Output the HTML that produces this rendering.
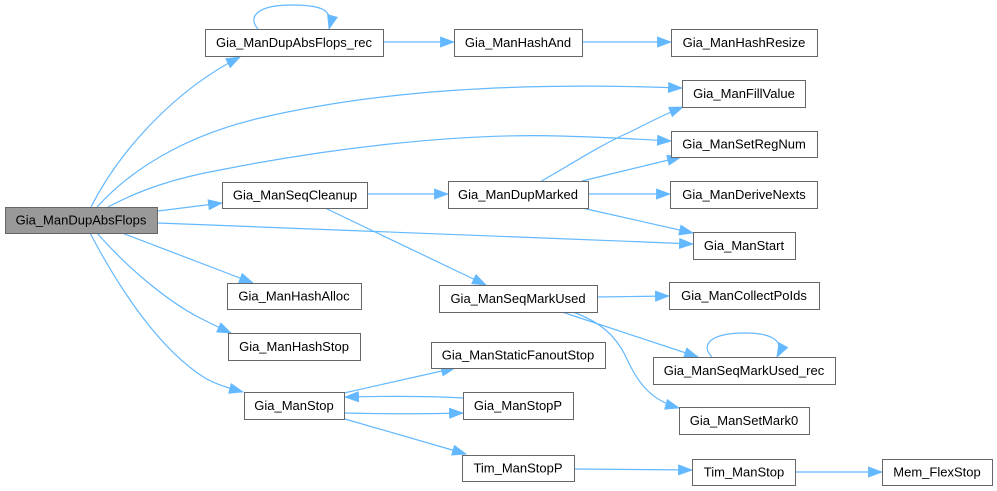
<!DOCTYPE html>
<html><head><meta charset="utf-8"><style>
html,body{margin:0;padding:0;background:#fff;}
svg{display:block;}
text{font-family:"Liberation Sans",Arial,sans-serif;font-size:13px;fill:#000;text-anchor:middle;}
.n{fill:#fff;stroke:#666;stroke-width:1;}
.g{fill:#999;stroke:#666;stroke-width:1;}
.e{fill:none;stroke:#63b8ff;stroke-width:1.2;}
</style></head><body>
<svg width="997" height="491" viewBox="0 0 997 491" xmlns="http://www.w3.org/2000/svg">
<defs>
<marker id="a" markerUnits="userSpaceOnUse" markerWidth="15" markerHeight="12" refX="14" refY="5.5" orient="auto">
<path d="M0.5,0.5 L14,5.5 L0.5,10.5 z" fill="#63b8ff" stroke="#63b8ff" stroke-width="0.8"/>
</marker>
</defs>
<g marker-end="url(#a)">
<path class="e" d="M91,207 C120,150 175,90 240,57"/>
<path class="e" d="M258,29 C248,18 255,5 292,5 C322,5 334,10 329,29"/>
<path class="e" d="M383,42 L454,42"/>
<path class="e" d="M582,42 L671,42"/>
<path class="e" d="M97,207 C140,160 200,132 260,118 C380,90 520,82 682,88"/>
<path class="e" d="M108,207 C140,190 175,178 220,170 C320,150 450,133 560,136 C600,137 635,139 671,141"/>
<path class="e" d="M158,211 L222,203"/>
<path class="e" d="M367,194 L448,194"/>
<path class="e" d="M540,182 C570,165 600,145 630,132 C650,122 665,114 683,107"/>
<path class="e" d="M582,181 L681,157"/>
<path class="e" d="M588,194 L670,194"/>
<path class="e" d="M582,208 L693,233"/>
<path class="e" d="M158,223 C300,228 500,236 693,244"/>
<path class="e" d="M325,208 L486,285"/>
<path class="e" d="M597,297 L669,296"/>
<path class="e" d="M562,312 L698,357"/>
<path class="e" d="M573,312 C600,322 615,335 625,355 C637,382 650,400 679,408"/>
<path class="e" d="M712,357 C700,345 710,333 745,333 C770,333 786,340 777,357"/>
<path class="e" d="M122,233 L253,283"/>
<path class="e" d="M97,233 C125,265 165,300 200,318 C210,323 220,328 231,333"/>
<path class="e" d="M90,233 C120,290 160,350 205,378 C215,384 228,388 243,392"/>
<path class="e" d="M344,393 L455,368"/>
<path class="e" d="M463,398 C430,396 390,396 345,397"/>
<path class="e" d="M345,413 C380,414 420,414 463,413"/>
<path class="e" d="M345,419 L466,454"/>
<path class="e" d="M574,469 L692,470"/>
<path class="e" d="M795,472 L882,472"/>
</g>

<rect class="g" x="5.5" y="207.5" width="152" height="26"/><text x="81" y="224.5">Gia_ManDupAbsFlops</text>
<rect class="n" x="205.5" y="29.5" width="178" height="27"/><text x="294" y="47">Gia_ManDupAbsFlops_rec</text>
<rect class="n" x="222.5" y="182.5" width="145" height="26"/><text x="295" y="199.5">Gia_ManSeqCleanup</text>
<rect class="n" x="454.5" y="29.5" width="128" height="27"/><text x="518" y="47">Gia_ManHashAnd</text>
<rect class="n" x="671.5" y="29.5" width="146" height="27"/><text x="744" y="47">Gia_ManHashResize</text>
<rect class="n" x="682.5" y="80.5" width="123" height="27"/><text x="744" y="98">Gia_ManFillValue</text>
<rect class="n" x="671.5" y="131.5" width="146" height="26"/><text x="744" y="148.5">Gia_ManSetRegNum</text>
<rect class="n" x="448.5" y="181.5" width="140" height="27"/><text x="518" y="199">Gia_ManDupMarked</text>
<rect class="n" x="670.5" y="181.5" width="147" height="27"/><text x="744" y="199">Gia_ManDeriveNexts</text>
<rect class="n" x="693.5" y="232.5" width="102" height="27"/><text x="744" y="250">Gia_ManStart</text>
<rect class="n" x="669.5" y="282.5" width="150" height="27"/><text x="744" y="300">Gia_ManCollectPoIds</text>
<rect class="n" x="653.5" y="357.5" width="182" height="27"/><text x="744" y="375">Gia_ManSeqMarkUsed_rec</text>
<rect class="n" x="679.5" y="407.5" width="130" height="27"/><text x="744" y="425">Gia_ManSetMark0</text>
<rect class="n" x="692.5" y="459.5" width="103" height="26"/><text x="744" y="476.5">Tim_ManStop</text>
<rect class="n" x="882.5" y="459.5" width="110" height="26"/><text x="937" y="476.5">Mem_FlexStop</text>
<rect class="n" x="227.5" y="283.5" width="134" height="26"/><text x="294" y="300.5">Gia_ManHashAlloc</text>
<rect class="n" x="228.5" y="333.5" width="132" height="27"/><text x="294" y="351">Gia_ManHashStop</text>
<rect class="n" x="244.5" y="392.5" width="100" height="27"/><text x="294" y="410">Gia_ManStop</text>
<rect class="n" x="439.5" y="285.5" width="158" height="27"/><text x="518" y="303">Gia_ManSeqMarkUsed</text>
<rect class="n" x="431.5" y="342.5" width="174" height="26"/><text x="518" y="359.5">Gia_ManStaticFanoutStop</text>
<rect class="n" x="463.5" y="392.5" width="110" height="27"/><text x="518" y="410">Gia_ManStopP</text>
<rect class="n" x="462.5" y="455.5" width="112" height="26"/><text x="518" y="472.5">Tim_ManStopP</text>
</svg>
</body></html>
